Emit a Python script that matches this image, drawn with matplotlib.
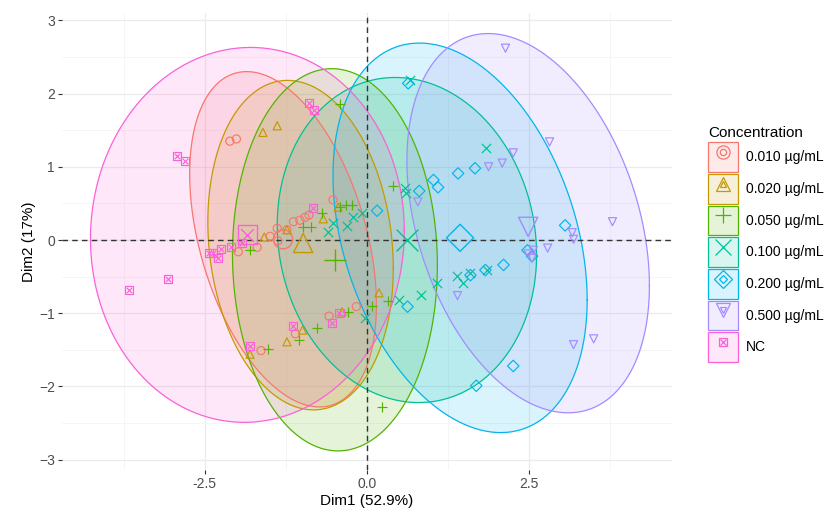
import numpy as np
import matplotlib
matplotlib.use('Agg')
import matplotlib.pyplot as plt
from matplotlib.patches import Patch
from matplotlib.lines import Line2D
from matplotlib.legend_handler import HandlerTuple

plt.rcParams['font.family'] = ['Liberation Sans', 'DejaVu Sans']

groups = ['0.010 µg/mL', '0.020 µg/mL', '0.050 µg/mL', '0.100 µg/mL',
          '0.200 µg/mL', '0.500 µg/mL', 'NC']
colors = ['#F8766D', '#C49A00', '#53B400', '#00C094', '#00B6EB', '#A58AFF', '#FB61D7']
markers = ['o', '^', '+', 'x', 'D', 'v', 's']

# individual scores (Dim1, Dim2)
x010 = [-2.11, -2.01, -1.98, -1.69, -1.38, -1.23, -1.13, -1.03, -0.95, -0.89, -0.52,
        -1.37, -1.63, -1.10, -0.58, -0.16, -1.49]
y010 = [1.35, 1.38, -0.16, -0.10, 0.16, 0.14, 0.25, 0.27, 0.31, 0.34, 0.55,
        -0.01, -1.51, -1.28, -1.04, -0.91, 0.05]
x020 = [-1.60, -1.38, -1.58, -1.23, -0.67, -0.44, -1.80, -1.23, -0.99, -0.38, 0.19]
y020 = [1.47, 1.56, 0.04, 0.14, 0.29, 0.45, -1.56, -1.39, -1.23, -0.98, -0.72]
x050 = [-0.41, 0.41, -0.69, -0.41, -0.32, -0.22, -0.98, -0.86, -1.80, -1.52, -1.04,
        -0.76, -0.29, 0.08, 0.33, 0.24]
y050 = [1.86, 0.74, 0.37, 0.45, 0.48, 0.48, 0.18, 0.18, -0.14, -1.49, -1.36,
        -1.20, -0.98, -0.90, -0.83, -2.28]
x100 = [0.67, 1.84, 0.59, 0.61, -0.59, -0.52, -0.30, -0.21, -0.07, -0.02, 0.50,
        0.83, 1.09, 1.40, 1.49, 1.60, 1.86]
y100 = [2.18, 1.25, 0.71, 0.64, 0.11, 0.23, 0.19, 0.31, 0.37, -1.06, -0.82,
        -0.75, -0.59, -0.49, -0.59, -0.45, -0.41]
x200 = [0.64, 1.41, 1.67, 1.03, 1.10, 0.81, 0.16, 3.06, 2.48, 2.55, 0.63, 1.60,
        1.83, 2.11, 2.26, 1.69]
y200 = [2.14, 0.91, 0.98, 0.82, 0.72, 0.67, 0.40, 0.20, -0.14, -0.22, -0.91, -0.48,
        -0.41, -0.34, -1.72, -1.99]
x500 = [2.14, 2.82, 2.26, 2.09, 1.88, 0.79, 3.79, 3.17, 3.19, 2.79, 2.57, 2.49,
        2.55, 1.40, 3.19, 3.50]
y500 = [2.62, 1.34, 1.19, 1.05, 1.00, 0.52, 0.25, 0.10, 0.01, -0.11, -0.14, -0.19,
        -0.25, -0.76, -1.43, -1.35]
xnc = [-2.92, -2.80, -3.67, -3.06, -0.89, -0.81, -2.43, -2.37, -2.29, -2.25, -2.09,
       -1.92, -0.83, -1.80, -1.13, -0.53, -0.42]
ync = [1.15, 1.08, -0.68, -0.53, 1.87, 1.77, -0.18, -0.18, -0.25, -0.12, -0.10,
       -0.04, 0.44, -1.45, -1.17, -1.13, -1.00]

xs = [x010, x020, x050, x100, x200, x500, xnc]
ys = [y010, y020, y050, y100, y200, y500, ync]

# group centroids
cen_x = [-1.29, -0.98, -0.49, 0.62, 1.44, 2.49, -1.84]
cen_y = [0.01, -0.04, -0.27, 0.00, 0.03, 0.18, 0.07]

# ellipse half extents and correlation
ell_sx = [1.44, 1.43, 1.58, 2.00, 1.96, 1.87, 2.42]
ell_sy = [2.29, 2.25, 2.61, 2.22, 2.66, 2.59, 2.56]
ell_rho = [-0.39, -0.14, -0.03, -0.09, -0.32, -0.33, 0.02]
ell_cx = [-1.29, -1.02, -0.49, 0.62, 1.44, 2.49, -1.84]
ell_cy = [0.01, -0.07, -0.27, 0.00, 0.03, 0.23, 0.07]

fig = plt.figure(figsize=(8.37, 5.21), dpi=100)
ax = fig.add_axes([0.074, 0.098, 0.729, 0.877])

t = np.linspace(0, 2 * np.pi, 300)
for i in range(len(groups)):
    ex = ell_cx[i] + ell_sx[i] * np.cos(t)
    ey = ell_cy[i] + ell_sy[i] * (ell_rho[i] * np.cos(t) + np.sqrt(1 - ell_rho[i] ** 2) * np.sin(t))
    ax.fill(ex, ey, facecolor=colors[i], alpha=0.15, edgecolor='none', zorder=1)
    ax.plot(ex, ey, color=colors[i], lw=0.9, zorder=2)

ax.axhline(0, color='#333333', ls=(0, (4, 3)), lw=1.0, zorder=3)
ax.axvline(0, color='#333333', ls=(0, (4, 3)), lw=1.0, zorder=3)

def draw_points(x, y, i, size, lw):
    m = markers[i]
    if m == 's':
        ax.scatter(x, y, s=size, marker='s', facecolors='none', edgecolors=colors[i], linewidths=lw, zorder=4)
        ax.scatter(x, y, s=size * 0.45, marker='x', color=colors[i], linewidths=lw, zorder=4)
    elif m in ['+', 'x']:
        ax.scatter(x, y, s=size * 1.3, marker=m, color=colors[i], linewidths=lw, zorder=4)
    else:
        ax.scatter(x, y, s=size, marker=m, facecolors='none', edgecolors=colors[i], linewidths=lw, zorder=4)

for i in range(len(groups)):
    draw_points(xs[i], ys[i], i, 34, 0.85)
    draw_points([cen_x[i]], [cen_y[i]], i, 190, 1.0)

ax.set_xlim(-4.70, 4.71)
ax.set_ylim(-3.14, 3.10)
ax.set_xticks([-2.5, 0, 2.5])
ax.set_xticklabels(['-2.5', '0.0', '2.5'])
ax.set_yticks([-3, -2, -1, 0, 1, 2, 3])
ax.set_xticks([-3.75, -1.25, 1.25, 3.75], minor=True)
ax.set_yticks(np.arange(-2.5, 3.0, 1.0), minor=True)
ax.grid(True, which='major', color='#EBEBEB', lw=0.9)
ax.grid(True, which='minor', color='#F4F4F4', lw=0.6)
ax.set_axisbelow(True)
for s in ax.spines.values():
    s.set_visible(False)
ax.tick_params(which='major', length=3, color='#333333', labelsize=10, labelcolor='#4D4D4D', pad=2)
ax.tick_params(which='minor', length=0)
ax.set_xlabel('Dim1 (52.9%)', fontsize=11, labelpad=2)
ax.set_ylabel('Dim2 (17%)', fontsize=11, labelpad=2)

handles = []
for i in range(len(groups)):
    box = Patch(facecolor=matplotlib.colors.to_rgba(colors[i], 0.15), edgecolor=colors[i], lw=0.9)
    if markers[i] == 's':
        mk = (Line2D([], [], marker='s', ls='none', mfc='none', mec=colors[i], ms=6, mew=0.9),
              Line2D([], [], marker='x', ls='none', color=colors[i], ms=4, mew=0.9))
    elif markers[i] in ['+', 'x']:
        mk = (Line2D([], [], marker=markers[i], ls='none', color=colors[i], ms=11, mew=0.9),)
    else:
        mk = (Line2D([], [], marker=markers[i], ls='none', mfc='none', mec=colors[i], ms=9.5, mew=0.9),
              Line2D([], [], marker=markers[i], ls='none', mfc='none', mec=colors[i], ms=4.5, mew=0.9))
    handles.append((box,) + mk)

leg = ax.legend(handles, groups, title='Concentration', loc='center left',
                bbox_to_anchor=(1.05, 0.494), frameon=False, fontsize=10, title_fontsize=11,
                handlelength=2.15, handleheight=2.9, handletextpad=0.6, labelspacing=0.15,
                borderaxespad=0, alignment='left',
                handler_map={tuple: HandlerTuple(ndivide=1, pad=0)})

fig.savefig('out.png', dpi=100)
